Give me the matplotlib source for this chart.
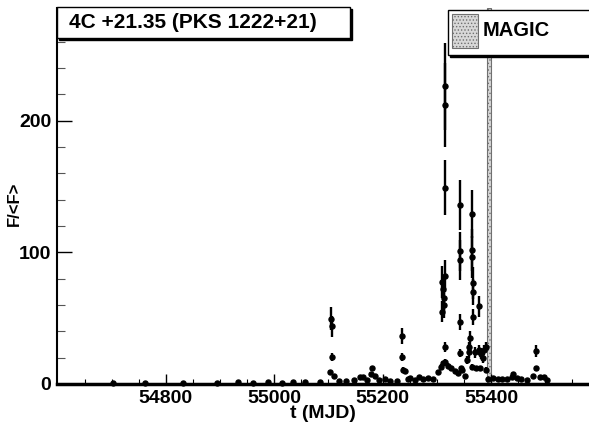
import numpy as np
import matplotlib.pyplot as plt
from matplotlib.patches import Rectangle

plt.rcParams['font.family'] = ['Liberation Sans', 'DejaVu Sans']
plt.rcParams['font.weight'] = 'bold'
plt.rcParams['hatch.linewidth'] = 0.6

# light curve: time (MJD), F/<F>, error
t = [54702, 54761, 54831, 54894, 54933, 54961, 54989, 55014, 55035, 55056, 55084,
     55102, 55105, 55106, 55106, 55110, 55119, 55133, 55148, 55158, 55164, 55171,
     55178, 55181, 55186, 55193, 55204, 55213, 55226, 55235, 55236, 55238, 55241,
     55246, 55250, 55259, 55268, 55274, 55283, 55293, 55302, 55307, 55311, 55316,
     55320, 55327, 55333, 55339, 55345, 55347, 55353, 55355, 55359, 55360, 55362,
     55365, 55370, 55373, 55379, 55378, 55382, 55385, 55388, 55391, 55391, 55394,
     55309, 55311, 55315, 55313, 55310, 55314, 55315, 55316, 55316, 55316,
     55342, 55342, 55342, 55342, 55343,
     55365, 55365, 55365, 55366, 55366, 55367, 55378,
     55404, 55413, 55421, 55429, 55438, 55441, 55448, 55456, 55466, 55478,
     55483, 55484, 55490, 55498, 55503]
flux = [0.8, 0.8, 1.0, 1.0, 1.2, 1.0, 1.2, 1.0, 1.3, 1.2, 1.5,
        8.8, 49.7, 44, 20.7, 6.3, 2.5, 2.3, 3, 5, 5.5, 3.3,
        7.3, 12, 6, 3.3, 4, 2, 2.3, 36.4, 20.7, 11, 9.5,
        3.5, 4.5, 3, 5, 4, 4.5, 3.5, 9.3, 13, 15.6, 17,
        14, 12, 10, 8.5, 12, 11, 6, 18, 28, 24, 35,
        13, 24, 12, 12, 26, 23, 20, 26, 28, 11, 3.5,
        77.5, 72, 82, 65, 55, 60, 28, 226, 212, 149,
        135.6, 100.7, 94, 47, 23.5,
        129, 102, 96.5, 76.8, 70, 51, 59,
        4.3, 4, 4, 4, 5.5, 7.5, 4.5, 4, 3, 6,
        12, 25, 5.5, 5.5, 3]
err = [0.3, 0.3, 0.3, 0.3, 0.3, 0.3, 0.3, 0.3, 0.3, 0.3, 0.3,
       1.5, 9, 8, 3, 1.5, 0.5, 0.5, 0.5, 1, 1, 0.8,
       1.2, 2, 1, 0.8, 0.8, 0.5, 0.5, 6, 3, 2, 1.5,
       0.8, 1, 0.8, 1, 0.8, 1, 0.8, 1.5, 2, 2, 2,
       2, 2, 1.5, 1.5, 2, 2, 1, 3, 4, 4, 5,
       2, 4, 2, 2, 4, 4, 4, 4, 4, 2, 1,
       12, 10, 12, 10, 8, 10, 4, 33, 32, 21,
       19, 15, 15, 6, 3,
       18, 16, 16, 12, 10, 6, 8,
       0.8, 0.8, 0.8, 0.8, 1, 1.5, 0.8, 0.8, 0.5, 1,
       2, 4.5, 1, 1, 0.5]

magic_start = 55393
magic_end = 55401
title = "4C +21.35 (PKS 1222+21)"

W, H = 589, 430
fig = plt.figure(figsize=(W / 100, H / 100), dpi=100)

def fx(px):
    return px / W

def fy(py):
    return 1 - py / H

ax = fig.add_axes([fx(57), fy(384), fx(589) - fx(57), fy(8) - fy(384)])

ax.axvspan(magic_start, magic_end, facecolor='#d8d8d8', edgecolor='#707070',
           hatch='.....', lw=0.8, zorder=1)
ax.errorbar(t, flux, yerr=err, fmt='o', color='black', ms=3.6, elinewidth=1.7,
            capsize=0, zorder=3, clip_on=False)

ax.set_xlim(54599, 55581)
ax.set_ylim(0, 285.6)
ax.set_xticks([54800, 55000, 55200, 55400])
ax.set_xticks(np.arange(54650, 55600, 50), minor=True)
ax.set_yticks([0, 100, 200])
ax.set_yticks(np.arange(20, 285, 20), minor=True)

ax.spines['top'].set_visible(False)
ax.spines['right'].set_visible(False)
ax.spines['left'].set_linewidth(1.5)
ax.spines['bottom'].set_linewidth(2.5)

ax.tick_params(axis='both', which='both', direction='in', labelsize=14)
ax.tick_params(axis='x', which='major', length=7, width=1, pad=4)
ax.tick_params(axis='x', which='minor', length=3.5, width=0.8)
ax.tick_params(axis='y', which='major', length=11, width=1, pad=4)
ax.tick_params(axis='y', which='minor', length=6, width=0.8, color='#555555')
for lab in ax.get_xticklabels() + ax.get_yticklabels():
    lab.set_fontweight('bold')

ax.set_xlabel('t (MJD)', fontsize=14, fontweight='bold', labelpad=-1)
ax.set_ylabel('F/<F>', fontsize=12, fontweight='bold')
ax.yaxis.set_label_coords(-(57 - 22) / (589 - 57), 0.48)

# title box with shadow
fig.patches.append(Rectangle((fx(59), fy(40)), fx(352) - fx(59), fy(9) - fy(40),
                             transform=fig.transFigure, facecolor='black',
                             edgecolor='black', zorder=5))
fig.patches.append(Rectangle((fx(57), fy(38)), fx(350) - fx(57), fy(7) - fy(38),
                             transform=fig.transFigure, facecolor='white',
                             edgecolor='black', lw=1, zorder=6))
fig.text(fx(69), fy(23), title, fontsize=15, fontweight='bold', ha='left',
         va='center', zorder=7)

# legend box with shadow
fig.patches.append(Rectangle((fx(450), fy(57)), fx(600) - fx(450), fy(12) - fy(57),
                             transform=fig.transFigure, facecolor='black',
                             edgecolor='black', zorder=5))
fig.patches.append(Rectangle((fx(448), fy(55)), fx(600) - fx(448), fy(10) - fy(55),
                             transform=fig.transFigure, facecolor='white',
                             edgecolor='black', lw=1, zorder=6))
fig.patches.append(Rectangle((fx(452), fy(48)), fx(478) - fx(452), fy(14) - fy(48),
                             transform=fig.transFigure, facecolor='#d8d8d8',
                             edgecolor='#707070', hatch='.....', lw=0.8, zorder=7))
fig.text(fx(483), fy(31), 'MAGIC', fontsize=14.5, fontweight='bold', ha='left',
         va='center', zorder=8)

fig.savefig('out.png', dpi=100)
